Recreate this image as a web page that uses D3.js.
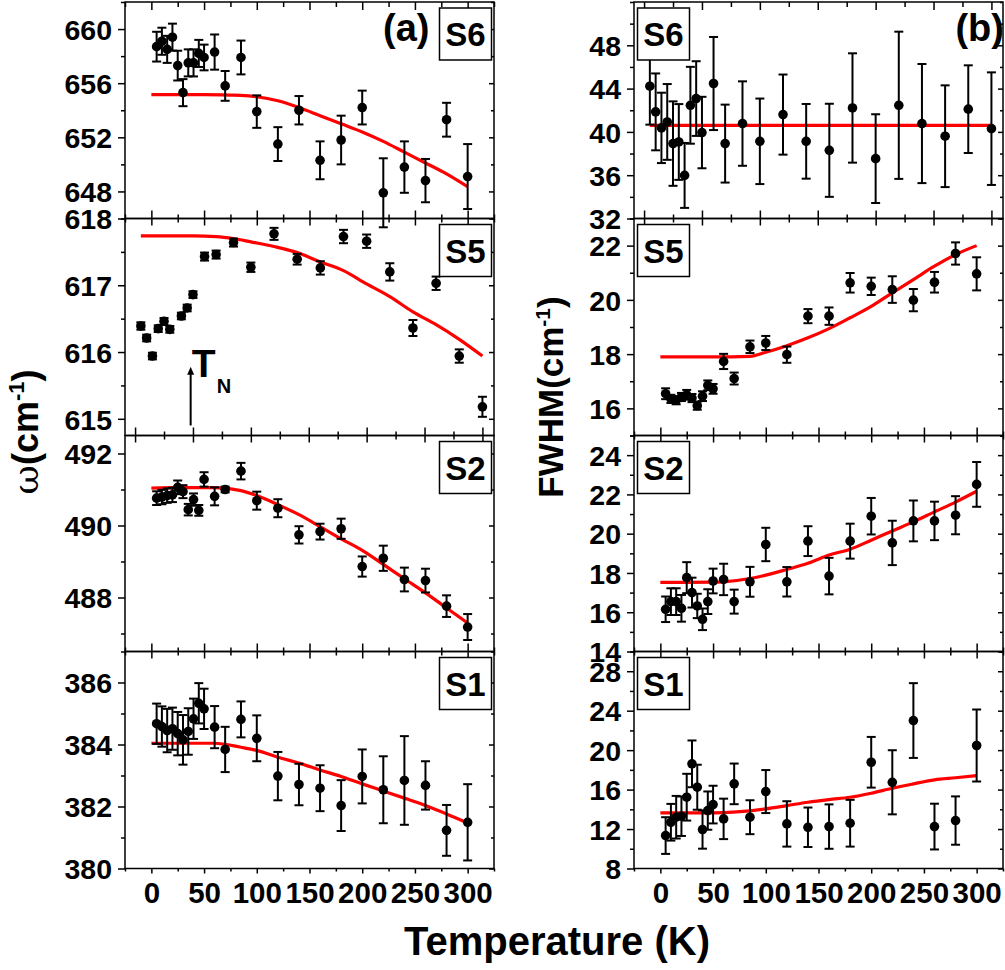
<!DOCTYPE html>
<html><head><meta charset="utf-8">
<script src="https://cdn.jsdelivr.net/npm/d3@7"></script>
<style>
body{margin:0;background:#fff}
svg{display:block}
</style>
</head><body>
<script>
// ---------------- DATA ----------------
const temps   = [5,10,15,20,25,30,35,40,45,50,60,70,85,100,120,140,160,180,200,220,240,260,280,300];
const tempsS5 = [5,10,15,20,25,30,40,45,50,60,70,85,100,120,140,160,180,200,220,240,260,280,300];

// (a) frequency omega (cm-1)
const wS6 = [658.7,659.1,658.5,659.4,657.3,655.3,657.5,657.5,658.2,657.9,658.3,655.8,657.9,653.9,651.5,654.0,650.3,651.8,654.2,647.9,649.8,648.8,653.3,649.1];
const wS6err = [1.1,1.0,1.0,1.0,1.1,1.0,1.0,1.0,1.0,0.95,1.3,1.1,1.25,1.2,1.25,1.05,1.4,1.8,1.25,2.55,1.9,1.6,1.25,2.4];
const wS5 = [616.39,616.21,615.94,616.35,616.46,616.34,616.54,616.66,616.86,617.43,617.46,617.64,617.27,617.77,617.39,617.26,617.73,617.66,617.2,616.36,617.03,615.94,615.18];
const wS5err = [0.055,0.05,0.05,0.05,0.05,0.05,0.05,0.05,0.05,0.06,0.06,0.06,0.07,0.09,0.08,0.1,0.1,0.1,0.13,0.12,0.1,0.1,0.15];
const wS2 = [490.76,490.79,490.83,490.85,491.06,490.94,490.44,490.72,490.42,491.28,490.81,491.0,491.51,490.69,490.48,489.74,489.83,489.91,488.86,489.09,488.5,488.47,487.76,487.18];
const wS2err = [0.19,0.2,0.2,0.2,0.19,0.18,0.16,0.17,0.15,0.2,0.25,0.08,0.23,0.25,0.25,0.24,0.22,0.28,0.28,0.35,0.33,0.33,0.3,0.36];
const wS1 = [384.67,384.58,384.45,384.51,384.35,384.15,384.42,384.83,385.33,385.15,384.56,383.84,384.81,384.2,382.98,382.71,382.59,382.03,382.97,382.54,382.84,382.68,381.23,381.49];
const wS1err = [0.65,0.65,0.7,0.68,0.7,0.8,0.75,0.65,0.65,0.65,0.68,0.73,0.58,0.74,0.78,0.67,0.74,0.82,0.87,1.08,1.43,0.78,0.82,1.23];

// (b) FWHM (cm-1)
const fS6 = [44.22,41.85,40.37,40.92,38.92,39.07,35.98,42.46,43.08,39.94,44.47,38.92,40.77,39.13,41.6,39.13,38.3,42.21,37.53,42.46,40.77,39.6,42.1,40.3];
const fS6err = [3.55,3.55,3.25,3.5,3.9,3.5,3.0,3.55,3.45,3.3,4.3,3.6,3.9,3.95,3.7,3.45,4.3,5.05,4.1,6.8,5.5,4.7,4.05,5.2];
const fS5 = [16.54,16.35,16.3,16.42,16.5,16.38,16.1,16.45,16.85,16.72,17.73,17.1,18.27,18.41,17.98,19.4,19.4,20.63,20.5,20.38,19.99,20.65,21.71,20.96];
const fS5err = [0.2,0.15,0.15,0.15,0.18,0.15,0.15,0.18,0.18,0.18,0.28,0.22,0.23,0.26,0.3,0.26,0.32,0.36,0.32,0.49,0.41,0.38,0.41,0.61];
const fS2 = [16.15,16.54,16.54,16.2,17.76,17.0,16.32,15.64,16.54,17.59,17.67,16.54,17.55,19.45,17.55,19.62,17.84,19.62,20.89,19.53,20.65,20.65,20.94,22.51];
const fS2err = [0.65,0.68,0.68,0.68,0.79,0.76,0.62,0.55,0.63,0.63,0.8,0.61,0.76,0.85,0.75,0.76,0.93,0.89,0.93,1.13,1.04,0.98,0.97,1.14];
const fS1 = [11.34,12.69,13.2,13.3,15.23,18.61,16.24,11.95,13.87,14.48,13.03,16.58,13.2,15.8,12.52,12.18,12.25,12.59,18.77,16.74,23.0,12.25,12.86,20.47];
const fS1err = [1.86,1.86,2.16,2.0,2.37,2.37,2.28,1.94,1.94,1.91,2.05,2.06,1.72,2.18,2.3,2.0,2.25,2.37,2.57,3.25,3.79,2.32,2.45,3.65];

// fit curves (red)
const fitTwS6 = [0,25,50,75,85,100,120,140,160,180,200,220,240,260,280,300];
const fitwS6  = [655.15,655.15,655.15,655.12,655.1,655.0,654.7,654.2,653.6,653.0,652.4,651.7,650.9,650.1,649.3,648.35];
const fitTwS5 = [5,25,50,70,85,100,120,140,160,180,200,220,240,260,280,300];
const fitwS5  = [617.74,617.74,617.74,617.73,617.7,617.65,617.58,617.49,617.35,617.22,617.02,616.83,616.6,616.41,616.19,615.94];
const fitTwS2 = [0,25,50,60,85,100,120,140,160,180,200,220,240,260,280,300];
const fitwS2  = [491.04,491.05,491.05,491.05,490.97,490.83,490.58,490.3,489.97,489.63,489.31,488.92,488.52,488.13,487.71,487.29];
const fitTwS1 = [0,25,50,60,85,100,120,140,160,180,200,220,240,260,280,300];
const fitwS1  = [384.04,384.04,384.04,384.04,383.91,383.81,383.59,383.4,383.18,382.97,382.73,382.5,382.27,382.03,381.76,381.47];
const fitTfS6 = [5,300];
const fitfS6  = [40.6,40.6];
const fitTfS5 = [0,25,50,85,100,120,140,160,180,200,220,240,260,280,300];
const fitfS5  = [17.9,17.9,17.9,17.92,18.07,18.31,18.6,18.94,19.34,19.76,20.26,20.75,21.24,21.67,22.0];
const fitTfS2 = [0,25,50,60,85,100,120,140,160,180,200,220,240,260,280,300];
const fitfS2  = [17.52,17.52,17.53,17.55,17.72,17.89,18.18,18.49,18.91,19.21,19.67,20.14,20.6,21.11,21.61,22.16];
const fitTfS1 = [0,50,100,120,140,160,180,200,220,240,260,280,300];
const fitfS1  = [13.64,13.64,14.05,14.38,14.72,14.99,15.22,15.63,16.14,16.58,16.99,17.2,17.42];

// tick labels
const xTickLabels = [0,50,100,150,200,250,300];
const ywS6Ticks = [648,652,656,660];
const ywS5Ticks = [615,616,617,618];
const ywS2Ticks = [488,490,492];
const ywS1Ticks = [380,382,384,386];
const yfS6Ticks = [32,36,40,44,48];
const yfS5Ticks = [16,18,20,22];
const yfS2Ticks = [14,16,18,20,22,24];
const yfS1Ticks = [8,12,16,20,24,28];
const modeNames = ["S6","S5","S2","S1"];
const TN = 48;

// ---------------- LAYOUT ----------------
const FONT = '"Liberation Sans", Arial, Helvetica, sans-serif';
const W = 1005, H = 970;
const cols = {L:[125,494], R:[634,1003]};
const rowY = [2,218.5,435.5,651.5,868.5];
const xStd = [-25,325], xAlt = [-8.7,310];

const panels = [
  {col:'L',row:0,name:modeNames[0],xd:xStd,yd:[646,662],maj:ywS6Ticks,minStep:2,T:temps,v:wS6,e:wS6err,fT:fitTwS6,fV:fitwS6},
  {col:'L',row:1,name:modeNames[1],xd:xAlt,yd:[614.75,618],maj:ywS5Ticks,minStep:0.5,T:tempsS5,v:wS5,e:wS5err,fT:fitTwS5,fV:fitwS5,tn:true},
  {col:'L',row:2,name:modeNames[2],xd:xStd,yd:[486.5,492.5],maj:ywS2Ticks,minStep:1,T:temps,v:wS2,e:wS2err,fT:fitTwS2,fV:fitwS2},
  {col:'L',row:3,name:modeNames[3],xd:xStd,yd:[380,387],maj:ywS1Ticks,minStep:1,T:temps,v:wS1,e:wS1err,fT:fitTwS1,fV:fitwS1},
  {col:'R',row:0,name:modeNames[0],xd:xAlt,yd:[32,52],maj:yfS6Ticks,minStep:2,T:temps,v:fS6,e:fS6err,fT:fitTfS6,fV:fitfS6},
  {col:'R',row:1,name:modeNames[1],xd:xStd,yd:[15,23],maj:yfS5Ticks,minStep:1,T:temps,v:fS5,e:fS5err,fT:fitTfS5,fV:fitfS5},
  {col:'R',row:2,name:modeNames[2],xd:xStd,yd:[14,25],maj:yfS2Ticks,minStep:1,T:temps,v:fS2,e:fS2err,fT:fitTfS2,fV:fitfS2},
  {col:'R',row:3,name:modeNames[3],xd:xStd,yd:[8,30],maj:yfS1Ticks,minStep:2,T:temps,v:fS1,e:fS1err,fT:fitTfS1,fV:fitfS1}
];

const svg = d3.select('body').append('svg').attr('width',W).attr('height',H)
  .attr('font-family',FONT).attr('font-weight','bold');

function axis(gen, scale, vals, size, tx, ty, fmt, fs, pad){
  const a = gen(scale).tickValues(vals).tickSize(size).tickPadding(pad||7)
    .tickFormat(fmt || (()=>''));
  const s = svg.append('g').attr('transform',`translate(${tx},${ty})`).call(a);
  s.attr('font-family',FONT).attr('font-size',null);
  s.select('.domain').remove();
  s.selectAll('line').attr('stroke','#000').attr('stroke-width',1.5);
  s.selectAll('text').attr('fill','#000').attr('font-size',fs||27).attr('font-weight','bold');
  return s;
}
const eq=(a,b)=>Math.abs(a-b)<1e-6;

panels.forEach(p=>{
  const [x0,x1] = cols[p.col];
  const y0 = rowY[p.row], y1 = rowY[p.row+1];
  const x = d3.scaleLinear().domain(p.xd).range([x0,x1]);
  const y = d3.scaleLinear().domain(p.yd).range([y1,y0]);

  // x ticks
  const xAll = d3.range(-25,325.001,25).filter(t=>t>=p.xd[0]-1e-6 && t<=p.xd[1]+1e-6);
  const xMaj = xAll.filter(t=>xTickLabels.some(l=>eq(l,t)));
  const xMin = xAll.filter(t=>!xMaj.some(l=>eq(l,t)));
  if(p.row===0){
    axis(d3.axisTop,x,xMaj,-8,0,y0);
    axis(d3.axisTop,x,xMin,-5,0,y0);
  }
  if(p.row===3){
    axis(d3.axisBottom,x,xMaj,5,0,y1,d3.format('d'),29.5,8.5);
    axis(d3.axisBottom,x,xMin,3,0,y1);
  } else {
    axis(d3.axisBottom,x,xMaj,7,0,y1);
    axis(d3.axisBottom,x,xMaj,-8,0,y1);
    axis(d3.axisBottom,x,xMin,4,0,y1);
    axis(d3.axisBottom,x,xMin,-4,0,y1);
  }
  // y ticks
  const nSteps = Math.round((p.yd[1]-p.yd[0])/p.minStep)+1;
  const first = Math.ceil(p.yd[0]/p.minStep-1e-9)*p.minStep;
  const yAll = d3.range(0,nSteps).map(i=>+(first+i*p.minStep).toFixed(4)).filter(v=>v<=p.yd[1]+1e-6);
  const yMin = yAll.filter(v=>!p.maj.some(m=>eq(m,v)));
  axis(d3.axisLeft,y,p.maj,7,x0,0,d3.format('d'),28.5,6)
    .selectAll('text').attr('dy','0.36em');
  axis(d3.axisLeft,y,yMin,4,x0,0);
  axis(d3.axisRight,y,p.maj,-5,x1,0);
  axis(d3.axisRight,y,yMin,-3,x1,0);

  // frame
  svg.append('rect').attr('x',x0).attr('y',y0).attr('width',x1-x0).attr('height',y1-y0)
    .attr('fill','none').attr('stroke','#000').attr('stroke-width',1.5);

  // fit line
  const fit = p.fT.map((t,i)=>[t,p.fV[i]]);
  svg.append('path').datum(fit)
    .attr('d',d3.line().x(d=>x(d[0])).y(d=>y(d[1])).curve(d3.curveMonotoneX))
    .attr('fill','none').attr('stroke','#ff0000').attr('stroke-width',3.2)
    .attr('stroke-linejoin','round');

  // data points with error bars
  const pts = p.T.map((t,i)=>({t,v:p.v[i],e:p.e[i]}));
  const gp = svg.append('g').attr('stroke','#000').attr('stroke-width',2);
  gp.selectAll('line.eb').data(pts).join('line').attr('class','eb')
    .attr('x1',d=>x(d.t)).attr('x2',d=>x(d.t))
    .attr('y1',d=>y(d.v-d.e)).attr('y2',d=>y(d.v+d.e));
  gp.selectAll('line.cap1').data(pts).join('line').attr('class','cap1')
    .attr('x1',d=>x(d.t)-4.5).attr('x2',d=>x(d.t)+4.5)
    .attr('y1',d=>y(d.v+d.e)).attr('y2',d=>y(d.v+d.e));
  gp.selectAll('line.cap2').data(pts).join('line').attr('class','cap2')
    .attr('x1',d=>x(d.t)-4.5).attr('x2',d=>x(d.t)+4.5)
    .attr('y1',d=>y(d.v-d.e)).attr('y2',d=>y(d.v-d.e));
  svg.append('g').selectAll('circle').data(pts).join('circle')
    .attr('cx',d=>x(d.t)).attr('cy',d=>y(d.v)).attr('r',4.8).attr('fill','#000');

  // mode label box
  const bw=52,bh=52;
  const bx = p.col==='L' ? x1-bw-2.5 : x0+3.5;
  const by = y0+6;
  svg.append('rect').attr('x',bx).attr('y',by).attr('width',bw).attr('height',bh)
    .attr('fill','#fff').attr('stroke','#000').attr('stroke-width',1.5);
  svg.append('text').attr('x',bx+bw/2).attr('y',by+bh/2+12).attr('text-anchor','middle')
    .attr('font-size',33).attr('fill','#000').text(p.name);

  // T_N annotation
  if(p.tn){
    const ax = x(TN);
    svg.append('line').attr('x1',ax).attr('x2',ax).attr('y1',y(614.9)).attr('y2',y(615.72))
      .attr('stroke','#000').attr('stroke-width',2);
    svg.append('path').attr('d',`M${ax-3.5},${y(615.66)} L${ax},${y(615.78)} L${ax+3.5},${y(615.66)} Z`)
      .attr('fill','#000');
    svg.append('text').attr('x',ax+1).attr('y',y(615.63)).attr('font-size',39).attr('fill','#000').text('T');
    svg.append('text').attr('x',ax+26).attr('y',y(615.39)).attr('font-size',20).attr('fill','#000').text('N');
  }
});

// panel letters
svg.append('text').attr('x',383).attr('y',41).attr('font-size',38).attr('fill','#000').text('(a)');
svg.append('text').attr('x',1004).attr('y',41).attr('text-anchor','end').attr('font-size',38).attr('fill','#000').text('(b)');

// axis titles
svg.append('text').attr('x',557).attr('y',955).attr('text-anchor','middle')
  .attr('font-size',40).attr('fill','#000').text('Temperature (K)');

const yl = svg.append('text').attr('transform','translate(38,432) rotate(-90)')
  .attr('text-anchor','middle').attr('font-size',36).attr('fill','#000');
yl.append('tspan').attr('font-family','"DejaVu Serif","Liberation Serif",serif').attr('font-weight','normal').text('ω');
yl.append('tspan').text('(cm');
yl.append('tspan').attr('font-size',22).attr('dy',-14).text('-1');
yl.append('tspan').attr('dy',14).text(')');

const yr = svg.append('text').attr('transform','translate(563,397) rotate(-90)')
  .attr('text-anchor','middle').attr('font-size',35).attr('fill','#000');
yr.append('tspan').text('FWHM(cm');
yr.append('tspan').attr('font-size',21).attr('dy',-13).text('-1');
yr.append('tspan').attr('dy',13).text(')');
</script>
</body></html>
